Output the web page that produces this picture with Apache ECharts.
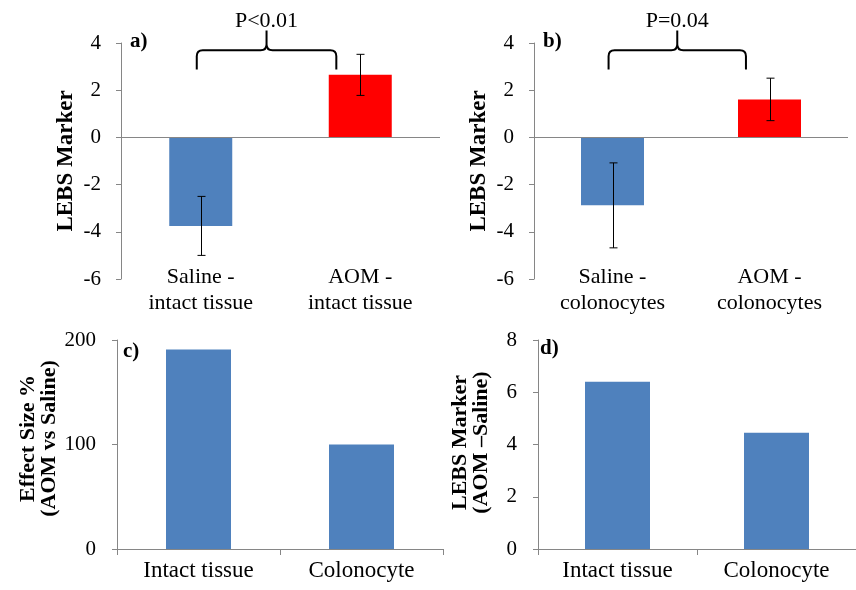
<!DOCTYPE html>
<html><head><meta charset="utf-8">
<script src="https://cdn.jsdelivr.net/npm/echarts@6/dist/echarts.min.js"></script>
<style>html,body{margin:0;padding:0;background:#fff}#c{width:856px;height:590px}</style>
</head><body><div id="c"></div>
<script>
const catsA = ['Saline -\nintact tissue', 'AOM -\nintact tissue'];
const catsB = ['Saline -\ncolonocytes', 'AOM -\ncolonocytes'];
const meansA = [-3.75, 2.65];
const errA = [1.25, 0.87];
const meansB = [-2.88, 1.61];
const errB = [1.8, 0.9];
const catsCD = ['Intact tissue', 'Colonocyte'];
const effectC = [191, 100];
const diffD = [6.4, 4.45];
const pLabels = ['P<0.01', 'P=0.04'];
const panelLabels = ['a)', 'b)', 'c)', 'd)'];
const yNames = ['LEBS Marker', 'LEBS Marker', 'Effect Size %\n(AOM vs Saline)', 'LEBS Marker\n(AOM \u2013Saline)'];
const yRangeAB = [-6, 4, 2];
const yRangeC = [0, 200, 100];
const yRangeD = [0, 8, 2];
// brace: [fromCat, toCat, endY, barY, peakY]
const braceA = [0, 1, 2.88, 3.69, 4.53];
const braceB = [0, 1, 2.88, 3.69, 4.53];

const FONT = 'Liberation Serif';
const AX = '#868686';
const BLUE = '#4F81BD', RED = '#FF0000';

const chart = echarts.init(document.getElementById('c'), null, {renderer: 'canvas'});

function yAxis(gi, r, name, gap, nfs, lm, npad) {
  return {
    type: 'value', gridIndex: gi, min: r[0], max: r[1], interval: r[2],
    axisLine: {show: true, lineStyle: {color: AX, width: 1}},
    axisTick: {show: true, length: 5, lineStyle: {color: AX}},
    splitLine: {show: false},
    axisLabel: {color: '#000', fontFamily: FONT, fontSize: 21, margin: lm},
    name: name, nameLocation: 'middle', nameGap: gap,
    nameTextStyle: {color: '#000', fontFamily: FONT, fontSize: nfs, fontWeight: 'bold', lineHeight: 21, padding: npad}
  };
}
function xAxisAB(gi, cats) {
  return {
    type: 'category', gridIndex: gi, data: cats,
    axisLine: {show: false, onZero: false}, axisTick: {show: false},
    axisLabel: {color: '#000', fontFamily: FONT, fontSize: 22, lineHeight: 26, margin: -15, interval: 0}
  };
}
function xAxisCD(gi, cats) {
  return {
    type: 'category', gridIndex: gi, data: cats,
    axisLine: {show: true, lineStyle: {color: AX}},
    axisTick: {show: true, length: 6, lineStyle: {color: AX}},
    axisLabel: {color: '#000', fontFamily: FONT, fontSize: 23, margin: 10, interval: 0}
  };
}
function barSeries(idx, vals, colors, width, zeroLine) {
  const s = {
    type: 'bar', xAxisIndex: idx, yAxisIndex: idx, barWidth: width,
    data: vals.map((v, i) => ({value: v, itemStyle: {color: colors[i % colors.length]}})),
    z: 2
  };
  if (zeroLine) {
    s.markLine = {silent: true, symbol: ['none', 'none'], label: {show: false},
      lineStyle: {color: AX, type: 'solid', width: 1}, data: [{yAxis: 0}], animation: false};
  }
  return s;
}
function errSeries(idx, means, errs) {
  return {
    type: 'custom', xAxisIndex: idx, yAxisIndex: idx, z: 5,
    data: means.map((m, i) => [i, m - errs[i], m + errs[i]]),
    renderItem: function (params, api) {
      const lo = api.coord([api.value(0), api.value(1)]);
      const hi = api.coord([api.value(0), api.value(2)]);
      const x = Math.round(lo[0]) + 0.5, w = 4;
      const st = {stroke: '#000', lineWidth: 1};
      return {type: 'group', children: [
        {type: 'line', shape: {x1: x, y1: lo[1], x2: x, y2: hi[1]}, style: st},
        {type: 'line', shape: {x1: x - w, y1: hi[1], x2: x + w, y2: hi[1]}, style: st},
        {type: 'line', shape: {x1: x - w, y1: lo[1], x2: x + w, y2: lo[1]}, style: st}
      ]};
    }
  };
}
function braceSeries(idx, brace, label) {
  return {
    type: 'custom', xAxisIndex: idx, yAxisIndex: idx, z: 6, clip: false,
    data: [brace],
    renderItem: function (params, api) {
      const band = api.size([1, 0])[0];
      const a = api.coord([api.value(0), api.value(2)]);
      const b = api.coord([api.value(1), api.value(3)]);
      const p = api.coord([api.value(0), api.value(4)]);
      const x1 = a[0] - 0.025 * band, x2 = b[0] - 0.15 * band;
      const yE = a[1], yB = b[1], yP = p[1];
      const xm = (x1 + x2) / 2, r = 6;
      const path = 'M' + x1 + ',' + yE + ' L' + x1 + ',' + (yB + r) +
        ' Q' + x1 + ',' + yB + ' ' + (x1 + r) + ',' + yB +
        ' L' + (xm - r) + ',' + yB + ' Q' + xm + ',' + yB + ' ' + xm + ',' + (yB - r) +
        ' L' + xm + ',' + yP +
        ' M' + xm + ',' + (yB - r) + ' Q' + xm + ',' + yB + ' ' + (xm + r) + ',' + yB +
        ' L' + (x2 - r) + ',' + yB + ' Q' + x2 + ',' + yB + ' ' + x2 + ',' + (yB + r) +
        ' L' + x2 + ',' + yE;
      return {type: 'group', children: [
        {type: 'path', shape: {pathData: path}, style: {stroke: '#000', lineWidth: 2, fill: null}},
        {type: 'text', x: xm, y: yP + 2, style: {text: label, fill: '#000', fontFamily: FONT, fontSize: 22,
          textAlign: 'center', textVerticalAlign: 'bottom'}}
      ]};
    }
  };
}

const labelPos = [[130, 31], [543, 31], [123, 341], [540, 338]];

chart.setOption({
  animation: false,
  backgroundColor: '#fff',
  grid: [
    {left: 121, top: 43, width: 319, height: 236},
    {left: 534, top: 43, width: 314, height: 236},
    {left: 117, top: 340, width: 326, height: 209},
    {left: 538, top: 340, width: 326, height: 209}
  ],
  xAxis: [xAxisAB(0, catsA), xAxisAB(1, catsB), xAxisCD(2, catsCD), xAxisCD(3, catsCD)],
  yAxis: [yAxis(0, yRangeAB, yNames[0], 44, 23, 20, 0), yAxis(1, yRangeAB, yNames[1], 44, 23, 20, 0),
          yAxis(2, yRangeC, yNames[2], 53, 22, 21, [0, 0, 0, 12]), yAxis(3, yRangeD, yNames[3], 46, 22, 21, [0, 0, 0, 4])],
  graphic: panelLabels.map((t, i) => ({type: 'text', left: labelPos[i][0], top: labelPos[i][1],
    style: {text: t, fontFamily: FONT, fontWeight: 'bold', fontSize: 21, fill: '#000'}})),
  series: [
    barSeries(0, meansA, [BLUE, RED], 63, true),
    errSeries(0, meansA, errA),
    braceSeries(0, braceA, pLabels[0]),
    barSeries(1, meansB, [BLUE, RED], 63, true),
    errSeries(1, meansB, errB),
    braceSeries(1, braceB, pLabels[1]),
    barSeries(2, effectC, [BLUE], 65, false),
    barSeries(3, diffD, [BLUE], 65, false)
  ]
});
</script></body></html>
